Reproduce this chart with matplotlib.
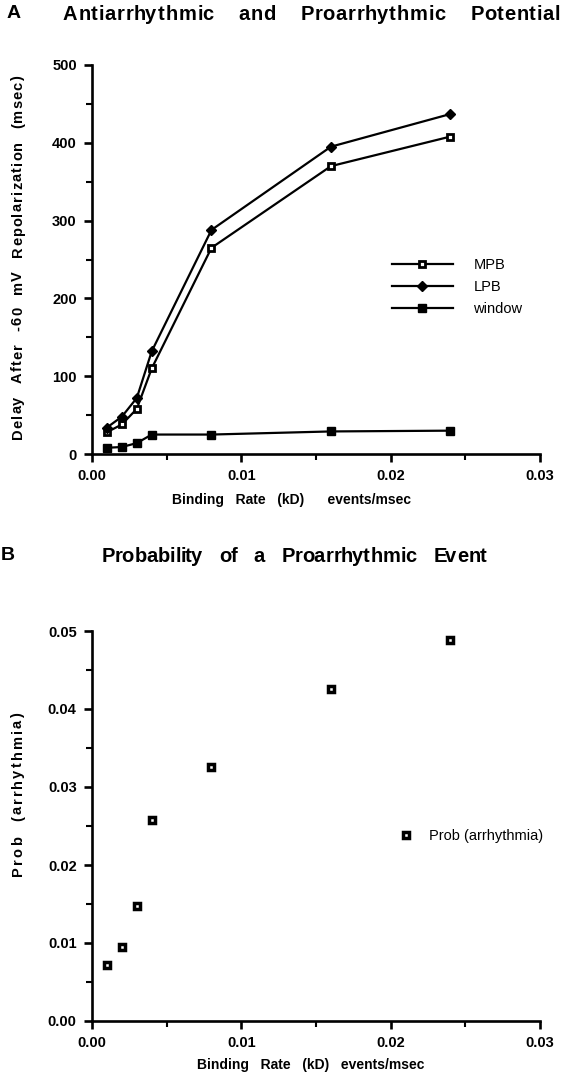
import matplotlib
matplotlib.use("Agg")
import matplotlib.pyplot as plt
from matplotlib.ticker import MultipleLocator, FormatStrFormatter
from matplotlib.font_manager import FontProperties, findfont
from matplotlib import ft2font

plt.rcParams['font.family'] = ['Liberation Sans', 'DejaVu Sans']

# Data
binding_rate = [0.001, 0.002, 0.003, 0.004, 0.008, 0.016, 0.024]
mpb = [28, 38, 58, 110, 265, 370, 408]
lpb = [34, 48, 72, 132, 288, 395, 437]
window = [8, 9, 14, 25, 25, 29, 30]
prob = [0.0072, 0.0095, 0.0148, 0.0258, 0.0326, 0.0426, 0.0488]

title_a = 'Antiarrhythmic and Proarrhythmic Potential'
title_b = 'Probability of a Proarrhythmic Event'
ylabel_a = 'Delay After -60 mV Repolarization (msec)'
ylabel_b = 'Prob (arrhythmia)'

W, H = 563, 1080
DPI = 100
fig = plt.figure(figsize=(W / DPI, H / DPI), dpi=DPI)

_font = ft2font.FT2Font(findfont(FontProperties(family='Liberation Sans',
                                                weight='bold')))


def fx(px):
    return px / W


def fy(py):
    return 1 - py / H


def glyph(ch, size):
    _font.set_size(size, DPI)
    g = _font.load_char(ord(ch))
    return g.linearHoriAdvance / 65536.0, g.horiBearingX / 64.0


def spaced_text(x_start, y_c, s, size, total, space, rotation=0):
    """Draw text with letter tracking so that it spans `total` pixels."""
    chars = [c for c in s if c != ' ']
    n_sp = s.count(' ')
    adv_sum = sum(glyph(c, size)[0] for c in chars)
    track = (total - adv_sum - n_sp * space) / max(len(chars) - 1, 1)
    off = 0.0
    for c in s:
        if c == ' ':
            off += space
            continue
        adv, lsb = glyph(c, size)
        if rotation == 0:
            fig.text(fx(x_start + off + lsb), fy(y_c), c, fontsize=size,
                     fontweight='bold', ha='left', va='center')
        else:
            # vertical text reading bottom-to-top; x_start is the bottom y
            fig.text(fx(y_c), fy(x_start - off - lsb), c, fontsize=size,
                     fontweight='bold', ha='left', va='center',
                     rotation=90, rotation_mode='anchor')
        off += adv + track


def axes_px(x0, y0, x1, y1):
    return fig.add_axes([x0 / W, 1 - y1 / H, (x1 - x0) / W, (y1 - y0) / H])


def style(ax):
    for s in ['top', 'right']:
        ax.spines[s].set_visible(False)
    for s in ['left', 'bottom']:
        ax.spines[s].set_linewidth(1.9)
    ax.tick_params(which='major', direction='out', length=6, width=1.9,
                   labelsize=10.5, pad=5)
    ax.tick_params(which='minor', direction='out', length=4, width=1.5)
    for lab in ax.get_xticklabels() + ax.get_yticklabels():
        lab.set_fontweight('bold')


# ---- Panel A ----
axA = axes_px(92, 65, 540, 454)
axA.plot(binding_rate, mpb, color='black', lw=1.6, marker='s', ms=4.0,
         mfc='white', mec='black', mew=2.0, label='MPB', zorder=3)
axA.plot(binding_rate, lpb, color='black', lw=1.6, marker='D', ms=5.2,
         mfc='black', mec='black', label='LPB', zorder=3)
axA.plot(binding_rate, window, color='black', lw=1.6, marker='s', ms=5.2,
         mfc='black', mec='black', label='window', zorder=3)
axA.set_xlim(0, 0.03)
axA.set_ylim(0, 500)
axA.xaxis.set_major_locator(MultipleLocator(0.01))
axA.xaxis.set_minor_locator(MultipleLocator(0.005))
axA.yaxis.set_major_locator(MultipleLocator(100))
axA.yaxis.set_minor_locator(MultipleLocator(50))
axA.xaxis.set_major_formatter(FormatStrFormatter('%.2f'))
style(axA)
axA.set_xlabel('Binding   Rate   (kD)      events/msec', fontsize=10,
               fontweight='bold', va='center')
axA.xaxis.set_label_coords(fx(291), fy(500), transform=fig.transFigure)
axA.legend(loc='upper left', bbox_to_anchor=(0.64, 0.537),
           frameon=False, handlelength=4.2, handletextpad=1.4,
           labelspacing=0.55, fontsize=10.5)
fig.text(fx(7), fy(14), 'A', fontsize=14, fontweight='bold',
         va='center', ha='left')
spaced_text(62, 14, title_a, 14.5, 497, 24)
spaced_text(258 + 182, 18, ylabel_a, 10.5, 364, 12, rotation=90)

# ---- Panel B ----
axB = axes_px(92, 631, 540, 1021)
axB.plot(binding_rate, prob, linestyle='none', marker='s', ms=4.0,
         mfc='white', mec='black', mew=2.5, label='Prob (arrhythmia)',
         zorder=3)
axB.set_xlim(0, 0.03)
axB.set_ylim(0, 0.05)
axB.xaxis.set_major_locator(MultipleLocator(0.01))
axB.xaxis.set_minor_locator(MultipleLocator(0.005))
axB.yaxis.set_major_locator(MultipleLocator(0.01))
axB.yaxis.set_minor_locator(MultipleLocator(0.005))
axB.xaxis.set_major_formatter(FormatStrFormatter('%.2f'))
axB.yaxis.set_major_formatter(FormatStrFormatter('%.2f'))
style(axB)
axB.set_xlabel('Binding   Rate   (kD)   events/msec', fontsize=10,
               fontweight='bold', va='center')
axB.xaxis.set_label_coords(fx(311), fy(1065), transform=fig.transFigure)
axB.legend(loc='upper left', bbox_to_anchor=(0.655, 0.525), frameon=False,
           handlelength=1.0, handletextpad=1.1, fontsize=10.5)
fig.text(fx(1), fy(556), 'B', fontsize=14, fontweight='bold',
         va='center', ha='left')
spaced_text(100, 556, title_b, 14.5, 386, 16)
spaced_text(795 + 82, 18, ylabel_b, 10.5, 164, 14, rotation=90)

fig.savefig('out.png', dpi=DPI, facecolor='white')
